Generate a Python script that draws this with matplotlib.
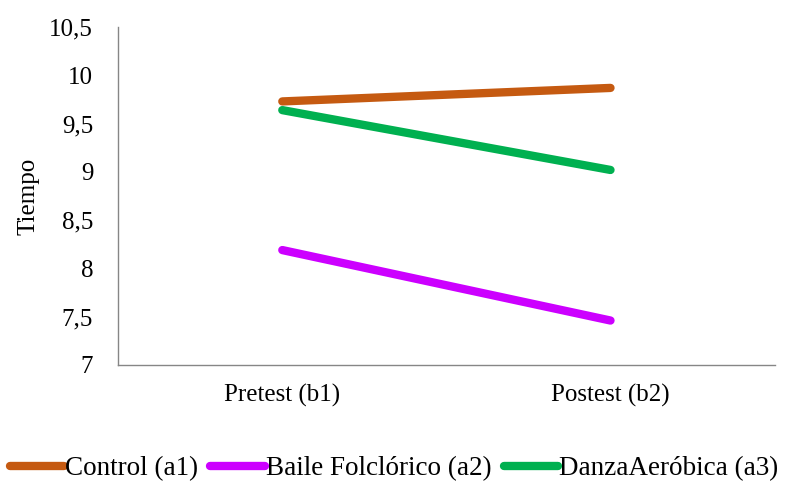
import matplotlib
matplotlib.use("Agg")
import matplotlib.pyplot as plt
from matplotlib.ticker import FuncFormatter

plt.rcParams['font.family'] = ['Liberation Serif', 'DejaVu Serif']

phases = ["Pretest (b1)", "Postest (b2)"]
groups = ["Control (a1)", "Baile Folclórico (a2)", "DanzaAeróbica (a3)"]
control = [9.73, 9.87]
baile = [8.19, 7.46]
danza = [9.64, 9.02]
colors = ["#C55A11", "#CC00FF", "#00B050"]
yticks = [7, 7.5, 8, 8.5, 9, 9.5, 10, 10.5]

fig = plt.figure(figsize=(7.88, 4.84), dpi=100)
ax = fig.add_axes([0.15, 0.246, 0.833, 0.698])

x = list(range(len(phases)))
for vals, name, c in zip([control, baile, danza], groups, colors):
    ax.plot(x, vals, color=c, lw=6, solid_capstyle='round', label=name)

ax.set_xlim(-0.5, 1.5)
ax.set_ylim(7, 10.5)
ax.set_xticks(x)
ax.set_xticklabels(phases)
ax.set_yticks(yticks)
ax.yaxis.set_major_formatter(FuncFormatter(lambda v, p: f"{v:g}".replace('.', ',')))
ax.tick_params(length=0, labelsize=18, colors='black')
ax.tick_params(axis='y', pad=18)
ax.tick_params(axis='x', pad=14)
ax.set_ylabel("Tiempo", fontsize=18, labelpad=7)

for s in ['top', 'right']:
    ax.spines[s].set_visible(False)
for s in ['left', 'bottom']:
    ax.spines[s].set_color('#868686')
    ax.spines[s].set_linewidth(1)

fig.legend(loc='center', bbox_to_anchor=(0.5, 1 - 469 / 484), ncol=3, frameon=False,
           fontsize=19.5, handlelength=2.0, handletextpad=0.05, columnspacing=0.45,
           borderpad=0, borderaxespad=0)

fig.savefig("out.png", dpi=100)
